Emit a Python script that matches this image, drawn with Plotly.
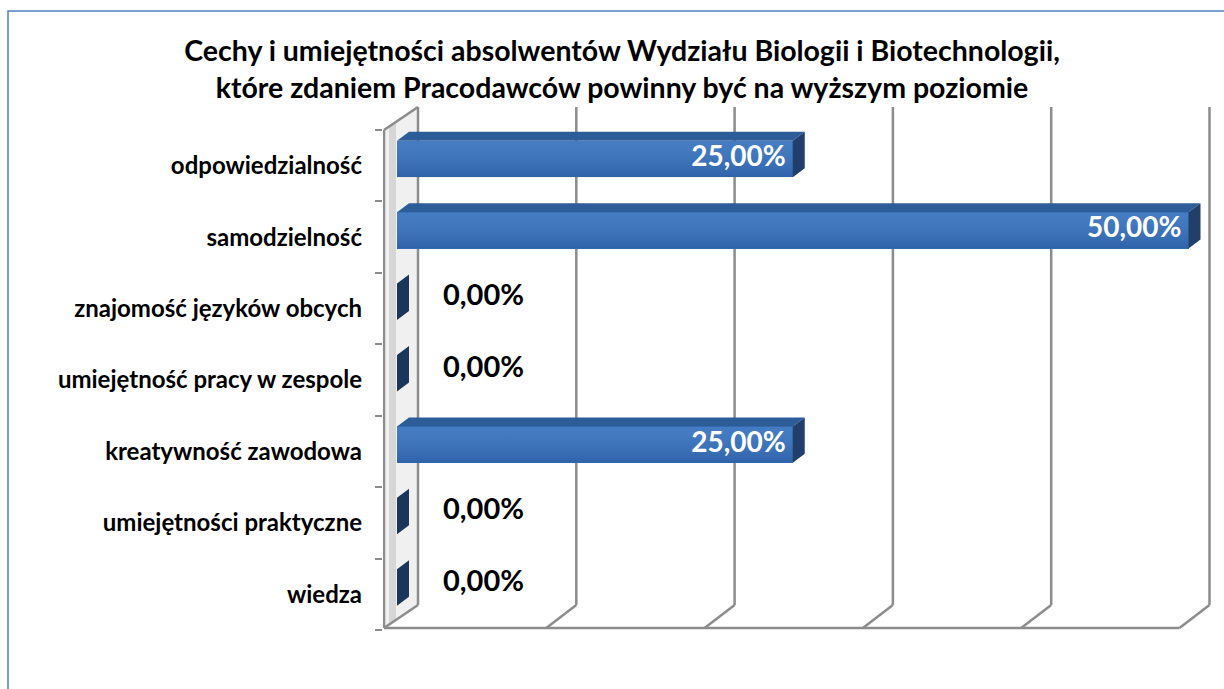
import plotly.graph_objects as go

# ---------------- data ----------------
categories = [
    "odpowiedzialność",
    "samodzielność",
    "znajomość języków obcych",
    "umiejętność pracy w zespole",
    "kreatywność zawodowa",
    "umiejętności praktyczne",
    "wiedza",
]
values = [0.25, 0.50, 0.0, 0.0, 0.25, 0.0, 0.0]
grid_ticks = [0.0, 0.1, 0.2, 0.3, 0.4, 0.5]
title_text = ("Cechy i umiejętności absolwentów Wydziału Biologii i Biotechnologii,<br>"
              "które zdaniem Pracodawców powinny być na wyższym poziomie")

# ---------------- geometry / style ----------------
W, H = 1224, 689
L_PX, R_PX, T_PX, B_PX = 383, 1211, 106, 630      # plot area in pixels
ZERO_PX = 397                                       # pixel of value 0 on bar front plane
SCALE = 1583.0                                      # px per 1.0 (=100%)
ROW = 71.43                                         # px per category

def px2x(px):
    return (px - ZERO_PX) / SCALE

def py2y(py):
    return (B_PX - py) / ROW - 0.5

def px2paper(px):
    return (px - L_PX) / (R_PX - L_PX)

def py2paper(py):
    return (B_PX - py) / (B_PX - T_PX)

FONT = "Lato, 'Open Sans', sans-serif"
GRID_COL = "#8C8C8C"
FRONT_COL = "#3672BE"
TOP_COL = "#2C5D99"
SIDE_COL = "#213F6C"
SIDE_ZERO_COL = "#1B365C"

BAR_W = 0.51
BAR_OFF = -0.16
DEPTH_DX = 12 / SCALE      # bar depth (x)
DEPTH_DY = 9 / ROW         # bar depth (y)

BACK_DX = 21 / SCALE       # back wall offset from bar zero plane
WALL_FRONT_X = px2x(384)
FLOOR_FRONT_Y = py2y(628)
FLOOR_BACK_Y = py2y(605)
WALL_TOP_FRONT_Y = py2y(130)
WALL_TOP_BACK_Y = py2y(107)
FLOOR_SHIFT_X = 30 / SCALE

n = len(categories)
ypos = [n - 1 - i for i in range(n)]
labels = [f"{v * 100:.2f}%".replace(".", ",") for v in values]

fig = go.Figure()

# ---------- frame shapes (walls, floor, gridlines) ----------
shapes = []
line = dict(color=GRID_COL, width=2.5)

# left wall fill (light, with a soft darker strip)
shapes.append(dict(type="path", xref="x", yref="y", layer="below",
                   path=(f"M {WALL_FRONT_X},{FLOOR_FRONT_Y} L {WALL_FRONT_X},{WALL_TOP_FRONT_Y} "
                         f"L {BACK_DX},{WALL_TOP_BACK_Y} L {BACK_DX},{FLOOR_BACK_Y} Z"),
                   fillcolor="#F0F0F0", line=dict(width=0)))
shapes.append(dict(type="path", xref="x", yref="y", layer="below",
                   path=(f"M {px2x(389)},{py2y(625)} L {px2x(389)},{py2y(127)} "
                         f"L {px2x(396)},{py2y(122)} L {px2x(396)},{py2y(620)} Z"),
                   fillcolor="#D6D6D6", line=dict(width=0)))

# back-wall gridlines + floor diagonals
for t in grid_ticks:
    xb = t + BACK_DX
    top = WALL_TOP_BACK_Y
    shapes.append(dict(type="line", xref="x", yref="y", layer="below",
                       x0=xb, x1=xb, y0=FLOOR_BACK_Y, y1=top, line=line))
    xf = xb - FLOOR_SHIFT_X if t > 0 else WALL_FRONT_X
    shapes.append(dict(type="line", xref="x", yref="y", layer="below",
                       x0=xb, x1=xf, y0=FLOOR_BACK_Y, y1=FLOOR_FRONT_Y, line=line))

# floor front edge
shapes.append(dict(type="line", xref="x", yref="y", layer="below",
                   x0=WALL_FRONT_X, x1=grid_ticks[-1] + BACK_DX - FLOOR_SHIFT_X,
                   y0=FLOOR_FRONT_Y, y1=FLOOR_FRONT_Y, line=line))
# wall front edge + top
shapes.append(dict(type="line", xref="x", yref="y", layer="below",
                   x0=WALL_FRONT_X, x1=WALL_FRONT_X, y0=FLOOR_FRONT_Y, y1=WALL_TOP_FRONT_Y, line=line))
shapes.append(dict(type="line", xref="x", yref="y", layer="below",
                   x0=WALL_FRONT_X, x1=BACK_DX, y0=WALL_TOP_FRONT_Y, y1=WALL_TOP_BACK_Y, line=line))

# outer chart border
shapes.append(dict(type="rect", xref="paper", yref="paper",
                   x0=px2paper(8), x1=px2paper(1240), y0=py2paper(700), y1=py2paper(11),
                   line=dict(color="#4F81BD", width=1.5), fillcolor="rgba(0,0,0,0)"))

# ---------- bars (front faces) ----------
fig.add_trace(go.Bar(
    orientation="h", x=values, y=ypos, width=BAR_W, offset=BAR_OFF,
    marker=dict(color=FRONT_COL, line=dict(width=0)),
    hoverinfo="skip", showlegend=False,
))

# subtle vertical gradient on front faces
for v, y in zip(values, ypos):
    if v <= 0:
        continue
    y0, y1 = y + BAR_OFF, y + BAR_OFF + BAR_W
    fig.add_trace(go.Scatter(
        x=[0, v, v, 0, 0], y=[y0, y0, y1, y1, y0], mode="lines", fill="toself",
        line=dict(width=0),
        fillgradient=dict(type="vertical",
                          colorscale=[[0, "rgba(0,0,40,0.14)"], [1, "rgba(255,255,255,0.07)"]]),
        hoverinfo="skip", showlegend=False,
    ))

# top faces
tx, ty = [], []
for v, y in zip(values, ypos):
    if v <= 0:
        continue
    top = y + BAR_OFF + BAR_W
    tx += [0, v, v + DEPTH_DX, DEPTH_DX, 0, None]
    ty += [top, top, top + DEPTH_DY, top + DEPTH_DY, top, None]
fig.add_trace(go.Scatter(x=tx, y=ty, mode="lines", fill="toself", fillcolor=TOP_COL,
                         line=dict(width=0), hoverinfo="skip", showlegend=False))

# right faces
for zero in (False, True):
    sx, sy = [], []
    for v, y in zip(values, ypos):
        if (v <= 0) != zero:
            continue
        bot = y + BAR_OFF
        top = bot + BAR_W
        sx += [v, v, v + DEPTH_DX, v + DEPTH_DX, v, None]
        sy += [bot, top, top + DEPTH_DY, bot + DEPTH_DY, bot, None]
    fig.add_trace(go.Scatter(x=sx, y=sy, mode="lines", fill="toself",
                             fillcolor=SIDE_ZERO_COL if zero else SIDE_COL,
                             line=dict(width=0), hoverinfo="skip", showlegend=False))

# ---------- data labels ----------
LBL_IN = 7 / SCALE
LBL_OUT = 46 / SCALE
inside = [(v, y, t) for v, y, t in zip(values, ypos, labels) if v > 0]
outside = [(v, y, t) for v, y, t in zip(values, ypos, labels) if v <= 0]
fig.add_trace(go.Scatter(
    x=[v - LBL_IN for v, _, _ in inside], y=[y + BAR_OFF + BAR_W / 2 for _, y, _ in inside],
    text=[t for _, _, t in inside], mode="text", textposition="middle left",
    textfont=dict(family=FONT, size=28, color="white", weight="bold"),
    hoverinfo="skip", showlegend=False))
fig.add_trace(go.Scatter(
    x=[v + LBL_OUT for v, _, _ in outside], y=[y + 0.15 for _, y, _ in outside],
    text=[t for _, _, t in outside], mode="text", textposition="middle right",
    textfont=dict(family=FONT, size=29, color="black", weight="bold"),
    hoverinfo="skip", showlegend=False))

fig.update_layout(
    width=W, height=H,
    margin=dict(l=L_PX, r=W - R_PX, t=T_PX, b=H - B_PX, autoexpand=False),
    paper_bgcolor="white", plot_bgcolor="rgba(0,0,0,0)",
    showlegend=False,
    shapes=shapes,
    title=dict(text=title_text, xref="paper", x=px2paper(622), xanchor="center",
               yref="container", y=1 - 61 / H, yanchor="middle",
               font=dict(family=FONT, size=28.5, color="black", weight="bold")),
    xaxis=dict(range=[px2x(L_PX), px2x(R_PX)], showgrid=False, zeroline=False,
               showticklabels=False, showline=False, ticks="", fixedrange=True),
    yaxis=dict(range=[-0.5, py2y(T_PX)], tickmode="array", tickvals=ypos, ticktext=categories,
               ticks="", showgrid=False, zeroline=False, showline=False,
               ticklabelstandoff=20,
               tickfont=dict(family=FONT, size=24, color="black", weight="bold"),
               minor=dict(tickmode="array", tickvals=[k - 0.5 for k in range(n + 1)],
                          ticks="outside", ticklen=7, tickwidth=2, tickcolor=GRID_COL,
                          showgrid=False),
               fixedrange=True),
    bargap=0,
)

fig.write_html(
    "out.html",
    config={"displayModeBar": False, "staticPlot": True},
    post_script="document.body.style.margin='0';document.documentElement.style.overflow='hidden';",
)
